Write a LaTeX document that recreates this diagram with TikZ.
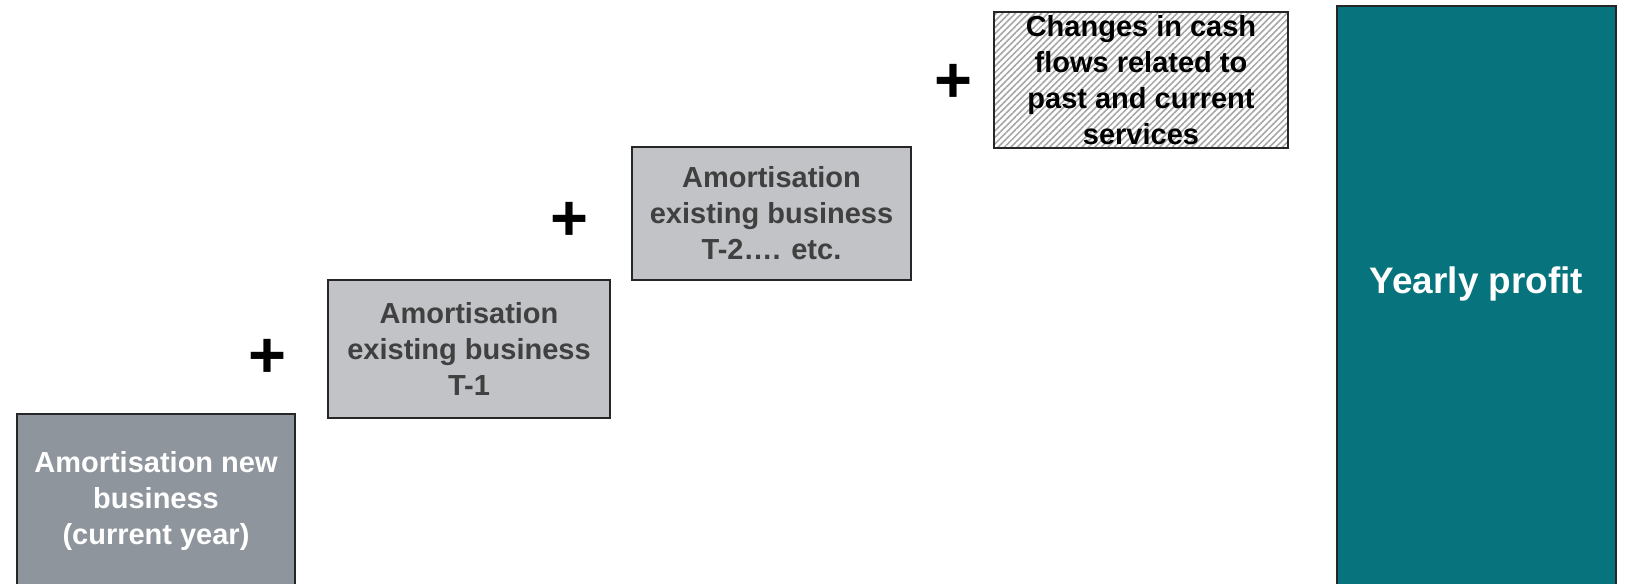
\documentclass[tikz,border=0pt]{standalone}
\usepackage{fontspec}
\setmainfont{Liberation Sans}
\usetikzlibrary{positioning,patterns.meta}

\definecolor{darkgrey}{HTML}{8E959C}
\definecolor{lightgrey}{HTML}{C1C3C7}
\definecolor{greytext}{HTML}{404040}
\definecolor{teal}{HTML}{06737D}

\begin{document}
\begin{tikzpicture}[node distance=5mm,
                     block/.style={
                                % The shape:
                                rectangle,inner sep=0pt,
                                minimum width=5.6cm,minimum height=2.7cm,
                                % The rest
                                draw=black!85,line width=0.8pt,
                                align=center,
                                font=\fontsize{16.5pt}{20.5pt}\selectfont\bfseries},
                     amort/.style={block,fill=lightgrey,text=greytext},
                     plus/.style={inner sep=0pt,
                                font=\fontsize{37pt}{37pt}\selectfont\bfseries}]
 \useasboundingbox (0,0) rectangle (32.6,11.66);
 \node (newbiz)    [block,fill=darkgrey,text=white,
                    minimum width=5.56cm,minimum height=3.48cm]
                    at (3.12,1.64)  {Amortisation new\\business\\(current year)};
 \node (tone)      [amort,minimum width=5.64cm,minimum height=2.76cm]
                    at (9.38,4.68)  {Amortisation\\existing business\\T-1};
 \node (ttwo)      [amort,minimum width=5.58cm,minimum height=2.66cm]
                    at (15.43,7.39) {Amortisation\\existing business\\T-2…. etc.};
 \node (cashflows) [block,minimum width=5.88cm,minimum height=2.72cm,
                    pattern={Lines[angle=45,distance=2.6pt,line width=0.9pt]},
                    pattern color=black!35]
                    at (22.82,10.06) {Changes in cash\\flows related to\\past and current\\services};
 \node (profit)    [block,fill=teal,minimum width=5.58cm,minimum height=11.88cm]
                    at (29.53,5.6) {};
 \node (profittxt) [text=white,font=\fontsize{21pt}{24pt}\selectfont\bfseries]
                    at (29.53,5.98) {Yearly profit};
 % the plus signs between the steps
 \node (plusA) [plus] at (5.34,4.5)  {+};
 \node (plusB) [plus] at (11.38,7.24) {+};
 \node (plusC) [plus] at (19.06,10.0) {+};
\end{tikzpicture}
\end{document}
